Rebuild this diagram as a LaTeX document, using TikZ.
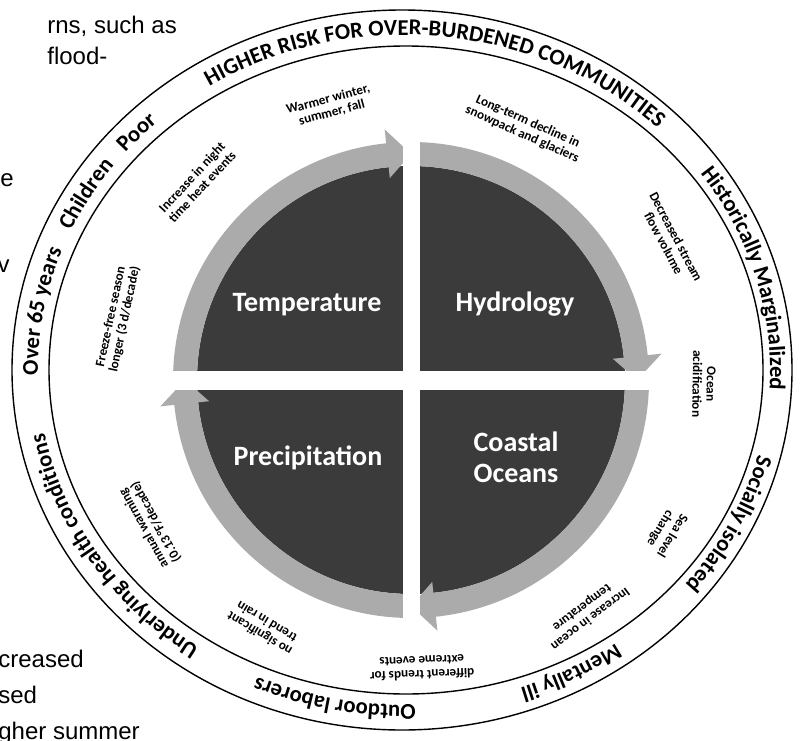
\documentclass[tikz,border=0pt]{standalone}
\usepackage{fontspec}
\newfontfamily\calib{Carlito}
\newfontfamily\pagefont{Liberation Sans}
\usepackage{tikz}
\usetikzlibrary{decorations.text}
\definecolor{quaddark}{HTML}{3B3B3B}
\definecolor{bandgray}{HTML}{ABABAB}

\begin{document}
\begin{tikzpicture}[
    x=0.5pt, y=0.5pt,
    quad_style/.style={fill=quaddark},
    band_style/.style={fill=bandgray},
    gap_style/.style={fill=white},
    ring_line/.style={black, line width=0.7pt},
    ring_text/.style={decorate, decoration={text along path, text align=center}},
    title_lbl/.style={white, align=center, font=\calib\bfseries\fontsize{14}{15.5}\selectfont},
    small_lbl/.style={align=center, inner sep=0pt, font=\calib\bfseries\fontsize{6.6}{7}\selectfont},
    page_txt/.style={inner sep=0pt, font=\pagefont\fontsize{12}{14}\selectfont}
  ]

  % bakgrund och ramens storlek
  \fill[white] (0,0) rectangle (801,740);
  \useasboundingbox (0,0) rectangle (801,740);

  % baseline-ellips for texten i ringen
  \def\ringarc#1#2{(404,370) ++(#1:366 and 335) arc[start angle=#1, end angle=#2, x radius=366, y radius=335]}
  \def\rf{\calib\bfseries\fontsize{11.3}{12}\selectfont}

  % 1. Rester av brodtexten till vanster
  \node[page_txt, anchor=base west] (frag1) at (47,706) {rns, such as};
  \node[page_txt, anchor=base west] (frag2) at (47,675) {flood-};
  \node[page_txt, anchor=base east] (frag3) at (14,553) {e};
  \node[page_txt, anchor=base east] (frag4) at (10,468) {v};
  \node[page_txt, anchor=base west] (frag5) at (-2,73) {creased};
  \node[page_txt, anchor=base west] (frag6) at (-2,37) {sed};
  \node[page_txt, anchor=base west] (frag7) at (-2,1) {gher summer};

  % 2. Yttre ringen
  \draw[ring_line] (402,370) ellipse [x radius=390, y radius=360];
  \draw[ring_line] (406,370) ellipse [x radius=357, y radius=324];

  \path[ring_text, decoration={text={|\rf|HIGHER RISK FOR OVER-BURDENED COMMUNITIES}}] \ringarc{136}{32};
  \path[ring_text, decoration={text={|\rf|Historically Marginalized}}] \ringarc{51}{-19};
  \path[ring_text, decoration={text={|\rf|Socially isolated}}] \ringarc{-2}{-52};
  \path[ring_text, decoration={text={|\rf|Mentally ill}}] \ringarc{-48}{-78};
  \path[ring_text, decoration={text={|\rf|Outdoor laborers}}] \ringarc{-79}{-123};
  \path[ring_text, decoration={text={|\rf|Underlying health  conditions}}] \ringarc{-112}{-182};
  \path[ring_text, decoration={text={|\rf|Over 65 years}}] \ringarc{190}{150};
  \path[ring_text, decoration={text={|\rf|Children}}] \ringarc{162}{136};
  \path[ring_text, decoration={text={|\rf|Poor}}] \ringarc{145}{127};

  % 3. Cirkeln med fyra kvadranter och pilar medurs
  \begin{scope}[shift={(411,360)}]
    \fill[quad_style] (0,0) circle (214);
    \foreach \a in {180, 90, 0, -90} {
      \fill[band_style] (\a:238) arc[start angle=\a, end angle=\a-84, radius=238]
        -- (\a-84:252) -- (\a-90:226) -- (\a-84:203) -- (\a-84:214)
        arc[start angle=\a-84, end angle=\a, radius=214] -- cycle;
    }
  \end{scope}

  % vita glipor mellan kvadranterna
  \fill[gap_style] (402.5,100) rectangle (419.5,622);
  \fill[gap_style] (145,350.5) rectangle (680,369.5);

  \node[title_lbl] (temp) at (307,435) {Temperature};
  \node[title_lbl] (hydro) at (515,436) {Hydrology};
  \node[title_lbl] (precip) at (308,282) {Precipitation};
  \node[title_lbl] (coast) at (516,283) {Coastal\\Oceans};

  % 4. Effekter runt cirkeln
  \node[small_lbl, rotate=15] (warm) at (330,634) {Warmer winter,\\summer, fall};
  \node[small_lbl, rotate=-24] (snow) at (525,612) {Long-term decline in\\snowpack and glaciers};
  \node[small_lbl, rotate=47] (night) at (197,558) {Increase in night\\time heat events};
  \node[small_lbl, rotate=78] (frost) at (118,422) {Freeze-free season\\longer (3 d/decade)};
  \node[small_lbl, rotate=-62] (stream) at (670,500) {Decreased stream\\flow volume};
  \node[small_lbl, rotate=-91] (acid) at (704,356) {Ocean\\acidification};
  \node[small_lbl, rotate=-121] (sea) at (666,208) {Sea level\\change};
  \node[small_lbl, rotate=-143] (otemp) at (586,127) {Increase in ocean\\temperature};
  \node[small_lbl, rotate=-178] (extreme) at (422,72) {different trends for\\extreme events};
  \node[small_lbl, rotate=149] (rain) at (263,112) {no significant\\trend in rain};
  \node[small_lbl, rotate=119] (annual) at (150,215) {annual warming\\(0.13 °F/decade)};

\end{tikzpicture}
\end{document}
